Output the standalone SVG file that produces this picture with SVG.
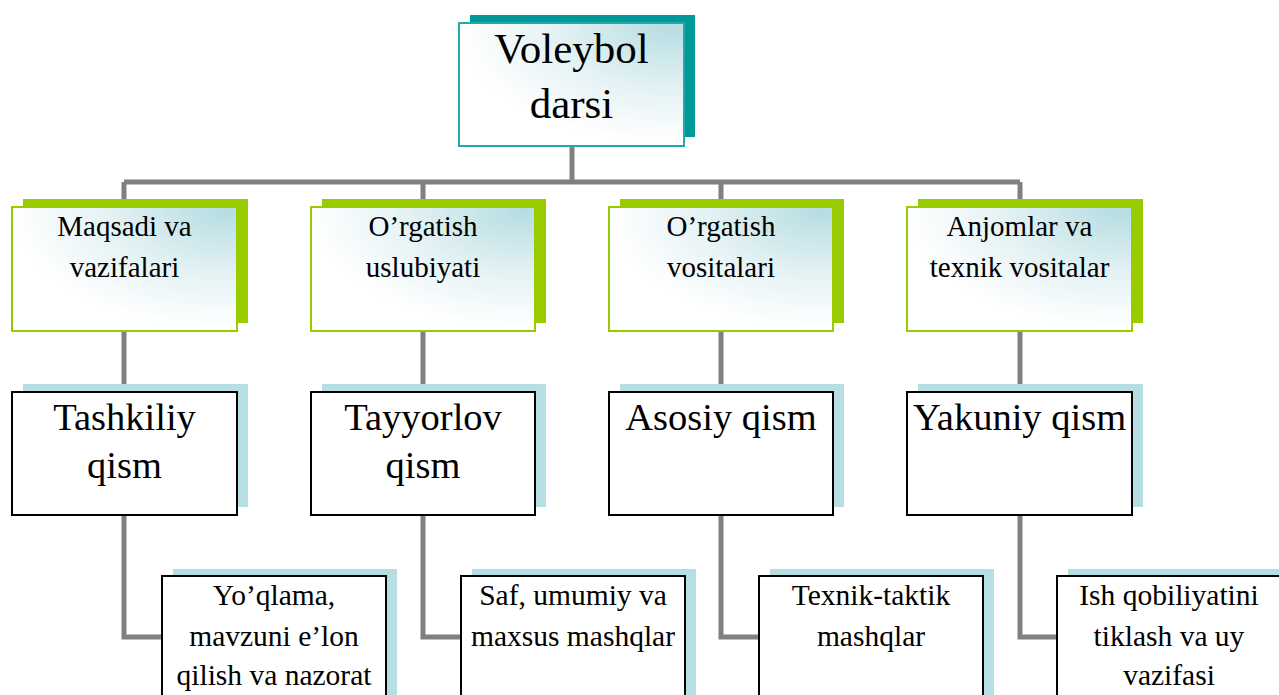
<svg xmlns="http://www.w3.org/2000/svg" width="1279" height="695" viewBox="0 0 1279 695">
<style>
.conn{fill:none;stroke:#808080;stroke-width:5}
.sh0{fill:#009999}
.sh1{fill:#99cc00}
.sh2{fill:#b7dfe3}
.b0{fill:url(#grad);stroke:#22aaaa;stroke-width:2}
.b1{fill:url(#grad);stroke:#99cc00;stroke-width:2}
.b2{fill:#ffffff;stroke:#000000;stroke-width:2}
text{font-family:"Liberation Serif","Times New Roman",serif;fill:#000;text-anchor:middle}
.t0{font-size:43px}
.t1{font-size:29px}
.t2{font-size:38.5px}
.t3{font-size:29.5px}
</style>
<defs>
<radialGradient id="grad" cx="0.95" cy="0.02" r="0.95" gradientUnits="objectBoundingBox">
<stop offset="0" stop-color="#b5dde1"/>
<stop offset="0.55" stop-color="#e4f2f4"/>
<stop offset="1" stop-color="#ffffff"/>
</radialGradient>
</defs>
<rect width="1279" height="695" fill="#ffffff"/>
<g id="connectors">
<path class="conn" d="M572 146V182M124 182H1020M124 182V207M423 182V207M721 182V207M1020 182V207"/>
<path class="conn" d="M124 331V392M423 331V392M721 331V392M1020 331V392"/>
<path class="conn" d="M124 515V637H162M423 515V637H461M721 515V637H759M1020 515V637H1057"/>
</g>
<g id="n-voleybol">
<rect class="sh0" x="470" y="15" width="225" height="122"/>
<rect class="b0" x="459" y="23" width="225" height="123"/>
<text class="t0" x="571.5" y="63">Voleybol</text>
<text class="t0" x="571.5" y="118">darsi</text>
</g>
<g id="n-maqsadi">
<rect class="sh1" x="23" y="199" width="225" height="124"/>
<rect class="b1" x="12" y="207" width="225" height="124"/>
<text class="t1" x="124.5" y="236">Maqsadi va</text>
<text class="t1" x="124.5" y="277">vazifalari</text>
</g>
<g id="n-uslubiyati">
<rect class="sh1" x="322" y="199" width="224" height="124"/>
<rect class="b1" x="311" y="207" width="224" height="124"/>
<text class="t1" x="423" y="236">O’rgatish</text>
<text class="t1" x="423" y="277">uslubiyati</text>
</g>
<g id="n-vositalari">
<rect class="sh1" x="620" y="199" width="224" height="124"/>
<rect class="b1" x="609" y="207" width="224" height="124"/>
<text class="t1" x="721" y="236">O’rgatish</text>
<text class="t1" x="721" y="277">vositalari</text>
</g>
<g id="n-anjomlar">
<rect class="sh1" x="918" y="199" width="225" height="124"/>
<rect class="b1" x="907" y="207" width="225" height="124"/>
<text class="t1" x="1019.5" y="236">Anjomlar va</text>
<text class="t1" x="1019.5" y="277">texnik vositalar</text>
</g>
<g id="n-tashkiliy">
<rect class="sh2" x="23" y="384" width="225" height="123"/>
<rect class="b2" x="12" y="392" width="225" height="123"/>
<text class="t2" x="124.5" y="430">Tashkiliy</text>
<text class="t2" x="124.5" y="478">qism</text>
</g>
<g id="n-tayyorlov">
<rect class="sh2" x="322" y="384" width="224" height="123"/>
<rect class="b2" x="311" y="392" width="224" height="123"/>
<text class="t2" x="423" y="430">Tayyorlov</text>
<text class="t2" x="423" y="478">qism</text>
</g>
<g id="n-asosiy">
<rect class="sh2" x="620" y="384" width="224" height="123"/>
<rect class="b2" x="609" y="392" width="224" height="123"/>
<text class="t2" x="721" y="430">Asosiy qism</text>
</g>
<g id="n-yakuniy">
<rect class="sh2" x="918" y="384" width="225" height="123"/>
<rect class="b2" x="907" y="392" width="225" height="123"/>
<text class="t2" x="1019.5" y="430">Yakuniy qism</text>
</g>
<g id="n-yoqlama">
<rect class="sh2" x="173" y="569" width="224" height="140"/>
<rect class="b2" x="162" y="576" width="224" height="140"/>
<text class="t3" x="274" y="605">Yo’qlama,</text>
<text class="t3" x="274" y="646">mavzuni e’lon</text>
<text class="t3" x="274" y="685">qilish va nazorat</text>
</g>
<g id="n-saf">
<rect class="sh2" x="472" y="569" width="224" height="140"/>
<rect class="b2" x="461" y="576" width="224" height="140"/>
<text class="t3" x="573" y="605">Saf, umumiy va</text>
<text class="t3" x="573" y="646">maxsus mashqlar</text>
</g>
<g id="n-texnik">
<rect class="sh2" x="770" y="569" width="224" height="140"/>
<rect class="b2" x="759" y="576" width="224" height="140"/>
<text class="t3" x="871" y="605">Texnik-taktik</text>
<text class="t3" x="871" y="646">mashqlar</text>
</g>
<g id="n-ish">
<rect class="sh2" x="1068" y="569" width="224" height="140"/>
<rect class="b2" x="1057" y="576" width="224" height="140"/>
<text class="t3" x="1169" y="605">Ish qobiliyatini</text>
<text class="t3" x="1169" y="646">tiklash va uy</text>
<text class="t3" x="1169" y="685">vazifasi</text>
</g>
</svg>
